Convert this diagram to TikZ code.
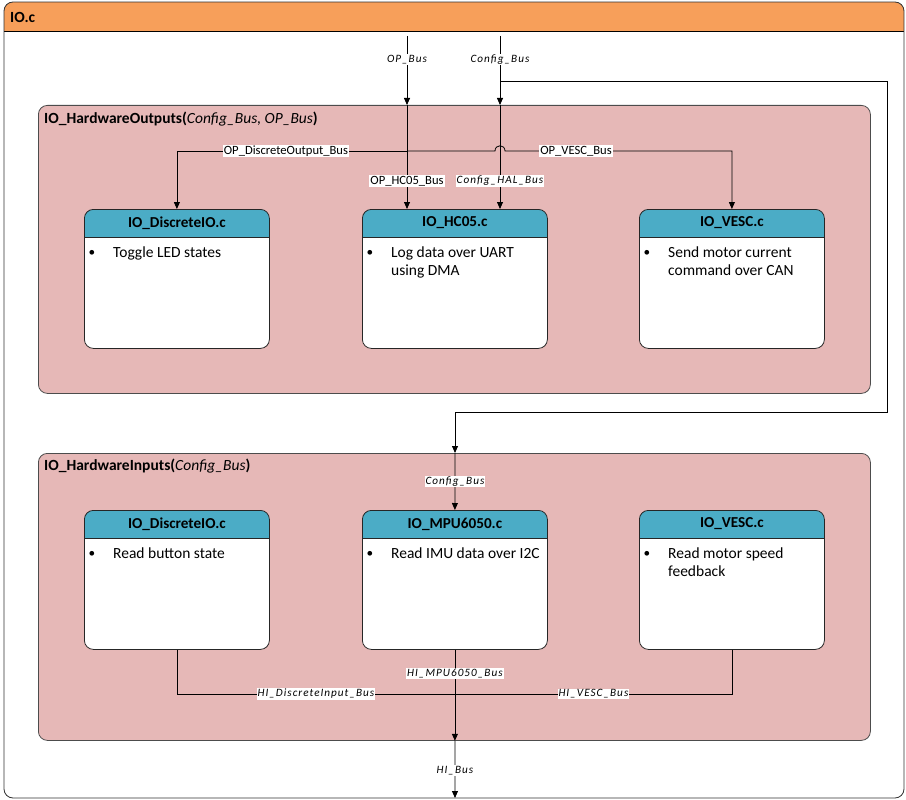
\documentclass[tikz,border=0pt]{standalone}
\usepackage{fontspec}
\setmainfont{Carlito}
\usetikzlibrary{arrows.meta,positioning,calc}

\definecolor{hdorange}{HTML}{F79F5A}
\definecolor{grppink}{HTML}{E6B8B7}
\definecolor{modteal}{HTML}{4BACC6}

\tikzset{
    frame/.style={draw=black!80, line width=0.8pt, rounded corners=9pt},
    grp/.style={draw=black!70, fill=grppink, line width=0.8pt, rounded corners=9pt,
        anchor=north west, inner sep=0pt, minimum width=832pt},
    mod/.style={draw=black!85, fill=white, line width=0.8pt, rounded corners=9pt,
        anchor=north west, inner sep=0pt, minimum width=185pt, minimum height=139pt,
        path picture={
            \fill[modteal, sharp corners] (path picture bounding box.north west)
                rectangle ([yshift=-28pt]path picture bounding box.north east);
            \draw[black!85, line width=0.8pt, sharp corners] ([yshift=-28pt]path picture bounding box.north west)
                -- ([yshift=-28pt]path picture bounding box.north east);
        }},
    modtitle/.style={font=\fontsize{15.2}{18}\selectfont\bfseries},
    modtext/.style={font=\fontsize{15.5}{18}\selectfont, anchor=north west, align=left, inner sep=0pt},
    grptitle/.style={font=\fontsize{15.5}{18}\selectfont, anchor=west, inner sep=0pt},
    bus/.style={-{Triangle[length=7pt,width=6pt]}, line width=0.8pt},
    wire/.style={line width=0.8pt},
    lbl/.style={fill=white, inner sep=1pt, font=\fontsize{12.6}{13}\selectfont},
    ilbl/.style={lbl, font=\fontsize{11.2}{12}\selectfont\itshape\addfontfeatures{LetterSpace=9}},
}

% one module box: name, top-left, title, text
\newcommand{\modbox}[4]{
    \node[mod] (#1) at (#2) {};
    \node[modtitle] at ([yshift=-14pt]#1.north) {#3};
    \node[font=\fontsize{13.3}{16}\selectfont, inner sep=0pt] at ([shift={(8pt,-44pt)}]#1.north west) {\textbullet};
    \node[modtext] at ([shift={(29pt,-38pt)}]#1.north west) {#4};
}

\begin{document}
\begin{tikzpicture}[x=1pt, y=-1pt]
    \useasboundingbox (0,0) rectangle (906,800);
    % IO.c frame
        \fill[white, rounded corners=9pt] (4,2) rectangle (904,798);
        \begin{scope}
            \clip[rounded corners=9pt] (4,2) rectangle (904,798);
            \fill[hdorange] (4,2) rectangle (904,31);
        \end{scope}
        \draw[wire] (4,31) -- (904,31);
        \draw[frame] (4,2) rectangle (904,798);
        \node[font=\fontsize{15.5}{18}\selectfont\bfseries, anchor=west, inner sep=0pt] (ioc) at (10,17) {IO.c};
        \coordinate (opin) at (407,36);
        \coordinate (cfgin) at (500,36);
        \coordinate (hiout) at (455,798);
    % groups
        \node[grp, minimum height=288pt] (hwo) at (38,105) {};
        \node[grptitle] at ([shift={(6pt,-14pt)}]hwo.north west)
            {\textbf{IO\_HardwareOutputs(}\textit{Config\_Bus, OP\_Bus}\textbf{)}};
        \node[grp, minimum height=287pt] (hwi) at (38,453) {};
        \node[grptitle] at ([shift={(6pt,-13pt)}]hwi.north west)
            {\textbf{IO\_HardwareInputs(}\textit{Config\_Bus}\textbf{)}};
    % modules
        \modbox{dout}{84,209}{IO\_DiscreteIO.c}{Toggle LED states}
        \modbox{hc}{362,209}{IO\_HC05.c}{Log data over UART\\using DMA}
        \modbox{vout}{639,209}{IO\_VESC.c}{Send motor current\\command over CAN}
        \modbox{din}{84,510}{IO\_DiscreteIO.c}{Read button state}
        \modbox{mpu}{362,510}{IO\_MPU6050.c}{Read IMU data over I2C}
        \modbox{vin}{639,510}{IO\_VESC.c}{Read motor speed\\feedback}
    % outputs
        \draw[bus] (opin) -- (opin |- hwo.north) node[ilbl, pos=0.34] {OP\_Bus};
        \draw[bus] (cfgin) -- (cfgin |- hwo.north) node[ilbl, pos=0.34] {Config\_Bus};
        \draw[bus] (opin |- hwo.north) -- (opin |- hc.north) node[lbl, pos=0.73] {OP\_HC05\_Bus};
        \draw[bus] (cfgin |- hwo.north) -- (cfgin |- hc.north) node[ilbl, pos=0.73] {Config\_HAL\_Bus};
        \draw[bus] (opin |- 0,151) -| (dout.north) node[lbl, pos=0.263] {OP\_DiscreteOutput\_Bus};
        \draw[bus] (opin |- 0,151) -- (495,151) .. controls (495,144) and (505,144) .. (505,151)
            -- (576,151) node[lbl] {OP\_VESC\_Bus} -| (vout.north);
    % config to inputs
        \draw[bus] (cfgin |- 0,81) -- (887,81) |- (455,412) -- (455,453);
        \draw[bus] (455,453) -- (mpu.north) node[ilbl, midway] {Config\_Bus};
    % inputs
        \draw[wire] (din.south) |- (455,694) node[ilbl, pos=0.75] {HI\_DiscreteInput\_Bus};
        \draw[wire] (vin.south) |- (455,694) node[ilbl, pos=0.75] {HI\_VESC\_Bus};
        \draw[bus] (mpu.south) -- (mpu.south |- hwi.south) node[ilbl, pos=0.26] {HI\_MPU6050\_Bus};
        \draw[bus] (mpu.south |- hwi.south) -- (hiout) node[ilbl, pos=0.52] {HI\_Bus};
\end{tikzpicture}
\end{document}
